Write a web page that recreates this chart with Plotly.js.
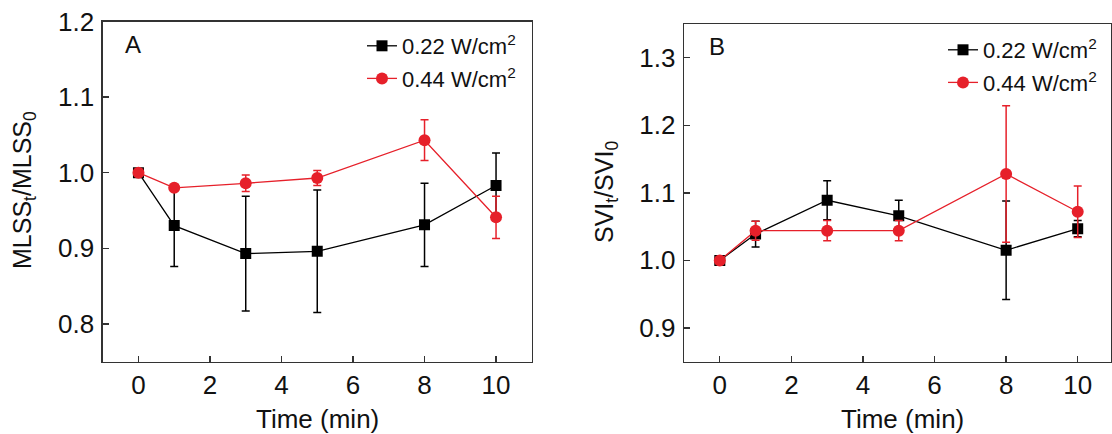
<!DOCTYPE html>
<html>
<head>
<meta charset="utf-8">
<script src="https://cdn.plot.ly/plotly-3.0.1.min.js"></script>
<style>html,body{margin:0;padding:0;background:#fff;}#chart{width:1112px;height:434px;}</style>
</head>
<body>
<div id="chart"></div>
<script>
// Time points (min)
var timeMin = [0, 1, 3, 5, 8, 10];
var xTickVals = [0, 2, 4, 6, 8, 10];

// Panel A: MLSS_t / MLSS_0
var mlssLow = [1.000, 0.930, 0.893, 0.896, 0.931, 0.983];
var mlssLowErr = [0, 0.054, 0.076, 0.081, 0.055, 0.043];
var mlssHigh = [1.000, 0.980, 0.986, 0.993, 1.043, 0.941];
var mlssHighErr = [0, 0, 0.011, 0.010, 0.027, 0.028];

// Panel B: SVI_t / SVI_0
var sviLow = [1.000, 1.039, 1.089, 1.066, 1.015, 1.047];
var sviLowErr = [0, 0.019, 0.029, 0.023, 0.073, 0.012];
var sviHigh = [1.000, 1.044, 1.044, 1.044, 1.128, 1.072];
var sviHighErr = [0, 0.014, 0.015, 0.015, 0.101, 0.038];

var seriesNames = ['0.22 W/cm<sup>2</sup>', '0.44 W/cm<sup>2</sup>'];
var yTicksA = [0.8, 0.9, 1.0, 1.1, 1.2];
var yTicksB = [0.9, 1.0, 1.1, 1.2, 1.3];

var BLACK = '#000000';
var RED = '#E6202A';
var TXT = '#111111';
var FONT = 'Liberation Sans, Arial, sans-serif';
var W = 1112, H = 434;
function px(x){return x / W;}
function py(y){return 1 - y / H;}

function mk(x, y, err, name, color, symbol, size, xa, ya, leg, grp) {
  return {
    x: x, y: y, name: name, type: 'scatter', mode: 'lines+markers',
    xaxis: xa, yaxis: ya, legend: leg, legendgroup: grp,
    line: {color: color, width: 1.3},
    marker: {color: color, symbol: symbol, size: size},
    error_y: {type: 'data', array: err, visible: true, color: color, thickness: 1.5, width: 4}
  };
}

var data = [
  mk(timeMin, mlssLow, mlssLowErr, seriesNames[0], BLACK, 'square', 11, 'x', 'y', 'legend', 'a1'),
  mk(timeMin, mlssHigh, mlssHighErr, seriesNames[1], RED, 'circle', 12, 'x', 'y', 'legend', 'a2'),
  mk(timeMin, sviLow, sviLowErr, seriesNames[0], BLACK, 'square', 11, 'x2', 'y2', 'legend2', 'b1'),
  mk(timeMin, sviHigh, sviHighErr, seriesNames[1], RED, 'circle', 12, 'x2', 'y2', 'legend2', 'b2')
];

var axisCommon = {
  showgrid: false, zeroline: false, showline: true, mirror: true,
  linecolor: '#333333', linewidth: 1.3,
  ticks: 'inside', ticklen: 6, tickwidth: 1.3, tickcolor: '#333333',
  tickfont: {family: FONT, size: 26, color: TXT}
};
function ax(extra){ return Object.assign({}, axisCommon, extra); }

var legendCommon = {
  xanchor: 'left', yanchor: 'top', bgcolor: 'rgba(0,0,0,0)', borderwidth: 0,
  font: {family: FONT, size: 22, color: TXT}, tracegroupgap: 1, itemclick: false
};

var layout = {
  width: W, height: H, autosize: false,
  margin: {l: 0, r: 0, t: 0, b: 0},
  paper_bgcolor: '#ffffff', plot_bgcolor: '#ffffff',
  showlegend: true,
  xaxis: ax({domain: [px(102.7), px(531.8)], range: [-1, 11], tickvals: xTickVals, anchor: 'y', ticklabelstandoff: 0}),
  yaxis: ax({domain: [py(361.7), py(21.5)], range: [0.75, 1.2], tickvals: yTicksA, tickformat: '.1f', anchor: 'x', ticklabelstandoff: 2}),
  xaxis2: ax({domain: [px(684), px(1111)], range: [-1, 10.93], tickvals: xTickVals, anchor: 'y2', ticklabelstandoff: 0}),
  yaxis2: ax({domain: [py(361.7), py(24)], range: [0.85, 1.35], tickvals: yTicksB, tickformat: '.1f', anchor: 'x2', ticklabelstandoff: 2}),
  legend: Object.assign({}, legendCommon, {x: px(362), y: py(25)}),
  legend2: Object.assign({}, legendCommon, {x: px(943), y: py(29)}),
  annotations: [
    {text: 'Time (min)', x: px(317.5), y: py(419), xref: 'paper', yref: 'paper', showarrow: false, xanchor: 'center', yanchor: 'middle', font: {family: FONT, size: 26, color: TXT}},
    {text: 'Time (min)', x: px(902), y: py(419), xref: 'paper', yref: 'paper', showarrow: false, xanchor: 'center', yanchor: 'middle', font: {family: FONT, size: 26, color: TXT}},
    {text: 'MLSS<sub>t</sub>/MLSS<sub>0</sub>', x: px(24), y: py(190), xref: 'paper', yref: 'paper', showarrow: false, textangle: -90, xanchor: 'center', yanchor: 'middle', font: {family: FONT, size: 25, color: TXT}},
    {text: 'SVI<sub>t</sub>/SVI<sub>0</sub>', x: px(606), y: py(192), xref: 'paper', yref: 'paper', showarrow: false, textangle: -90, xanchor: 'center', yanchor: 'middle', font: {family: FONT, size: 25, color: TXT}},
    {text: 'A', x: px(133), y: py(45), xref: 'paper', yref: 'paper', showarrow: false, xanchor: 'center', yanchor: 'middle', font: {family: FONT, size: 24, color: TXT}},
    {text: 'B', x: px(716.5), y: py(46.5), xref: 'paper', yref: 'paper', showarrow: false, xanchor: 'center', yanchor: 'middle', font: {family: FONT, size: 24, color: TXT}}
  ]
};

Plotly.newPlot('chart', data, layout, {displayModeBar: false, staticPlot: true});
</script>
</body>
</html>
